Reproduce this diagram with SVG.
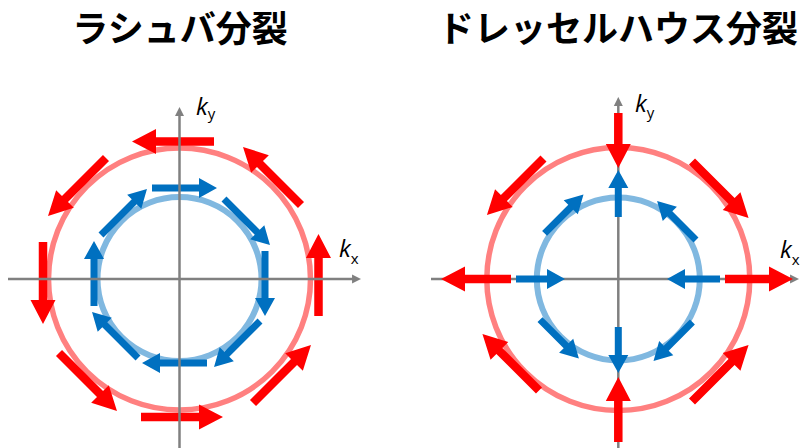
<svg xmlns="http://www.w3.org/2000/svg" xmlns:xlink="http://www.w3.org/1999/xlink" width="804" height="448" viewBox="0 0 804 448">
<style>
.title{font-family:"Noto Sans CJK JP","Noto Sans CJK SC",sans-serif;font-weight:bold;font-size:36px;fill:#000;text-anchor:middle}
.lab{font-family:"Open Sans","Liberation Sans",sans-serif;fill:#000}
.k{font-style:italic;font-size:24px}
.sub{font-size:15px}
.axis{stroke:#808080;stroke-width:2.5;fill:none;marker-end:url(#ah)}
.rc{fill:none;stroke:#FF8080;stroke-width:5.5}
.bc{fill:none;stroke:#80B8E0;stroke-width:6}
.ra{fill:#FF0000}
.ba{fill:#0070C0}
</style>
<defs>
<marker id="ah" viewBox="0 0 10 10" refX="4.4" refY="5" markerWidth="9" markerHeight="10" markerUnits="userSpaceOnUse" orient="auto"><path d="M0,0L10,5L0,10Z" fill="#808080"/></marker>
<path id="R82" d="M0-4.25H58V-12.5L82 0L58 12.5V4.25H0Z"/>
<path id="R80" d="M0-4.25H56V-12.5L80 0L56 12.5V4.25H0Z"/>
<path id="R70" d="M0-4.25H46V-12.5L70 0L46 12.5V4.25H0Z"/>
<path id="R68" d="M0-4.25H44V-12.5L68 0L44 12.5V4.25H0Z"/>
<path id="R65" d="M0-4.25H41V-12.5L65 0L41 12.5V4.25H0Z"/>
<path id="R55" d="M0-4.25H31V-12.5L55 0L31 12.5V4.25H0Z"/>
<path id="B65" d="M0-3.5H47V-10L65 0L47 10V3.5H0Z"/>
<path id="B55" d="M0-3.5H37V-10L55 0L37 10V3.5H0Z"/>
<path id="B53" d="M0-3.5H35V-10L53 0L35 10V3.5H0Z"/>
<path id="B49" d="M0-3.5H31V-10L49 0L31 10V3.5H0Z"/>
<path id="B47" d="M0-3.5H29V-10L47 0L29 10V3.5H0Z"/>
<path id="B46" d="M0-3.5H28V-10L46 0L28 10V3.5H0Z"/>
</defs>
<rect width="804" height="448" fill="#fff"/>

<g id="title-rashba"><text class="title" x="180" y="42">ラシュバ分裂</text></g>
<g id="title-dresselhaus"><text class="title" x="618" y="42">ドレッセルハウス分裂</text></g>

<g id="rashba">
  <g id="rashba-bands">
    <circle class="rc" cx="179.5" cy="279" r="131"/>
    <circle class="bc" cx="179.5" cy="279" r="82"/>
  </g>
  <g id="rashba-outer-spins" class="ra">
    <use xlink:href="#R82" transform="translate(214,141.5) rotate(180)"/>
    <use xlink:href="#R82" transform="translate(301,205) rotate(-135)"/>
    <use xlink:href="#R82" transform="translate(318.5,316) rotate(-90)"/>
    <use xlink:href="#R82" transform="translate(253,403) rotate(-45)"/>
    <use xlink:href="#R82" transform="translate(141,417)"/>
    <use xlink:href="#R82" transform="translate(59,353) rotate(45)"/>
    <use xlink:href="#R82" transform="translate(43,242) rotate(90)"/>
    <use xlink:href="#R82" transform="translate(106,158) rotate(135)"/>
  </g>
  <g id="rashba-inner-spins" class="ba">
    <use xlink:href="#B65" transform="translate(152,188)"/>
    <use xlink:href="#B65" transform="translate(224,199) rotate(45)"/>
    <use xlink:href="#B65" transform="translate(265,251) rotate(90)"/>
    <use xlink:href="#B65" transform="translate(260,321) rotate(135)"/>
    <use xlink:href="#B65" transform="translate(207,363) rotate(180)"/>
    <use xlink:href="#B65" transform="translate(138,358) rotate(-135)"/>
    <use xlink:href="#B65" transform="translate(94,306) rotate(-90)"/>
    <use xlink:href="#B65" transform="translate(101,235) rotate(-45)"/>
  </g>
  <g id="rashba-axes">
    <line class="axis" x1="8" y1="279" x2="356" y2="279"/>
    <line class="axis" x1="179.5" y1="448" x2="179.5" y2="112"/>
  </g>
  <g id="rashba-labels" class="lab">
    <text x="196" y="115"><tspan class="k">k</tspan><tspan class="sub" y="119">y</tspan></text>
    <text x="339" y="257"><tspan class="k">k</tspan><tspan class="sub" y="264">x</tspan></text>
  </g>
</g>

<g id="dresselhaus">
  <g id="dresselhaus-axes">
    <line class="axis" x1="431" y1="279" x2="794" y2="279"/>
    <line class="axis" x1="618.3" y1="448" x2="618.3" y2="102"/>
  </g>
  <g id="dresselhaus-bands">
    <circle class="rc" cx="618.3" cy="279" r="131.5"/>
    <circle class="bc" cx="618.3" cy="279" r="81.5"/>
  </g>
  <g id="dresselhaus-outer-spins" class="ra">
    <use xlink:href="#R55" transform="translate(618.3,113) rotate(90)"/>
    <use xlink:href="#R80" transform="translate(692,161.5) rotate(45)"/>
    <use xlink:href="#R68" transform="translate(725,279)"/>
    <use xlink:href="#R80" transform="translate(692,401.5) rotate(-45)"/>
    <use xlink:href="#R65" transform="translate(618.3,442) rotate(-90)"/>
    <use xlink:href="#R80" transform="translate(539,390.5) rotate(-135)"/>
    <use xlink:href="#R70" transform="translate(511,279) rotate(180)"/>
    <use xlink:href="#R80" transform="translate(543.5,158.5) rotate(135)"/>
  </g>
  <g id="dresselhaus-inner-spins" class="ba">
    <use xlink:href="#B47" transform="translate(618.3,217) rotate(-90)"/>
    <use xlink:href="#B55" transform="translate(696,240) rotate(-135)"/>
    <use xlink:href="#B53" transform="translate(720,279) rotate(180)"/>
    <use xlink:href="#B55" transform="translate(692.4,322) rotate(135)"/>
    <use xlink:href="#B46" transform="translate(618.3,327) rotate(90)"/>
    <use xlink:href="#B55" transform="translate(540,319.6) rotate(45)"/>
    <use xlink:href="#B49" transform="translate(516,279)"/>
    <use xlink:href="#B55" transform="translate(544.6,233.4) rotate(-45)"/>
  </g>
  <g id="dresselhaus-labels" class="lab">
    <text x="635" y="112"><tspan class="k">k</tspan><tspan class="sub" y="118">y</tspan></text>
    <text x="780" y="258"><tspan class="k">k</tspan><tspan class="sub" y="265">x</tspan></text>
  </g>
</g>
</svg>
